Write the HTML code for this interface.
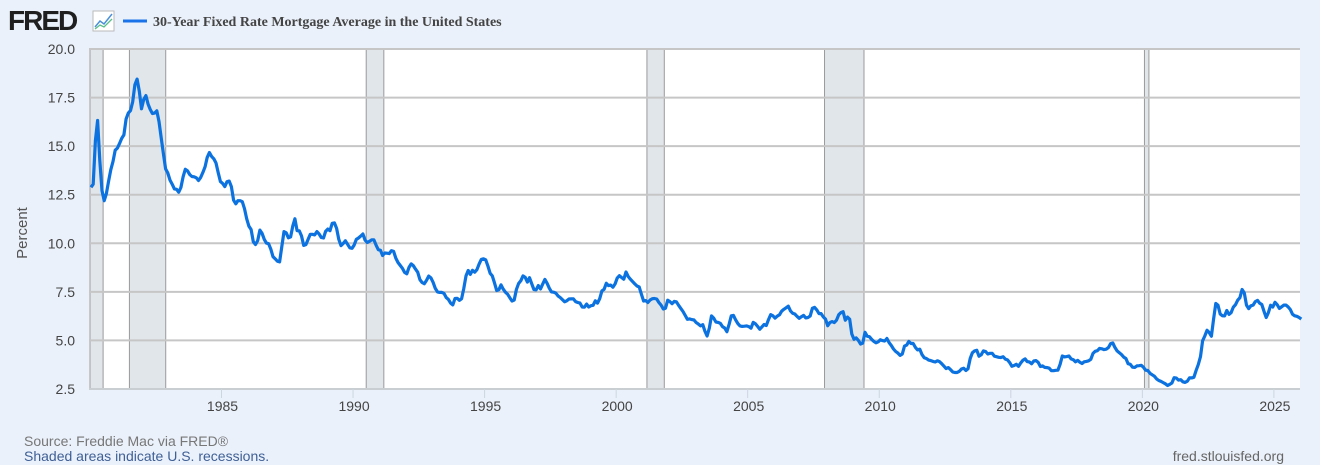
<!DOCTYPE html>
<html><head><meta charset="utf-8">
<style>
html,body{margin:0;padding:0;background:#eaf1fa;width:1320px;height:465px;overflow:hidden;font-family:"Liberation Sans",Arial,sans-serif;}
svg{display:block}
</style></head>
<body>
<svg id="chart" width="1320" height="465" xmlns="http://www.w3.org/2000/svg">
  <rect x="0" y="0" width="1320" height="465" fill="#eaf1fa"/>
  <g>
    <text x="8" y="30" font-family="Liberation Sans, sans-serif" font-weight="bold" font-size="28" fill="#1f1f1f" letter-spacing="-2">FRED</text>
    <rect x="93" y="11" width="21" height="20" fill="#fff" stroke="#bbb" stroke-width="1"/>
    <polyline points="95,27 100,21 104,24 112,14" fill="none" stroke="#4a90d9" stroke-width="1.5"/>
    <polyline points="95,29 100,25 104,27 112,19" fill="none" stroke="#5bbf8a" stroke-width="1.3"/>
  </g>
  <g>
    <line x1="123" y1="21" x2="147" y2="21" stroke="#1a73e8" stroke-width="3"/>
    <text x="153" y="26" font-family="Liberation Serif, serif" font-weight="bold" font-size="14" fill="#444">30-Year Fixed Rate Mortgage Average in the United States</text>
  </g>
  <rect x="89" y="49" width="1211" height="340" fill="#ffffff"/>
  <g id="rec"></g>
  <g id="grid"></g>
  <g id="yt"></g>
  <g id="xt"></g>
  <path id="line" fill="none" stroke="#0b72e0" stroke-width="3.2" stroke-linejoin="round"/>
  <text x="27" y="233" transform="rotate(-90 27 233)" text-anchor="middle" font-size="15" fill="#555">Percent</text>
  <text x="24" y="446" font-size="14" fill="#777">Source: Freddie Mac via FRED®</text>
  <text x="24" y="461" font-size="14" fill="#3f5f95">Shaded areas indicate U.S. recessions.</text>
  <text x="1284" y="461" text-anchor="end" font-size="14" fill="#666">fred.stlouisfed.org</text>
</svg>
<script>
const startYear = 1980;
const monthlyRates = [
12.88,13.04,15.28,16.32,14.26,12.71,12.19,12.56,13.20,13.79,14.21,14.79,
14.90,15.13,15.40,15.58,16.40,16.70,16.83,17.29,18.16,18.45,17.83,16.92,
17.40,17.60,17.16,16.89,16.68,16.70,16.82,16.27,15.43,14.61,13.83,13.62,
13.25,13.04,12.80,12.78,12.63,12.87,13.42,13.81,13.73,13.54,13.44,13.42,
13.37,13.23,13.39,13.65,13.94,14.42,14.67,14.47,14.35,14.13,13.64,13.18,
13.08,12.92,13.17,13.20,12.91,12.22,12.03,12.19,12.19,12.14,11.78,11.26,
10.88,10.71,10.08,9.94,10.14,10.68,10.51,10.20,10.01,9.98,9.70,9.31,
9.20,9.08,9.04,9.83,10.60,10.54,10.28,10.33,10.89,11.26,10.65,10.64,
10.38,9.89,9.93,10.20,10.46,10.46,10.43,10.60,10.48,10.30,10.27,10.61,
10.73,10.65,11.03,11.05,10.77,10.20,9.88,9.99,10.13,9.95,9.77,9.74,
9.90,10.20,10.27,10.37,10.48,10.16,10.04,10.10,10.18,10.18,9.90,9.67,
9.64,9.37,9.50,9.49,9.47,9.62,9.58,9.24,9.01,8.86,8.71,8.50,
8.43,8.76,8.94,8.85,8.67,8.51,8.13,7.98,7.92,8.09,8.31,8.22,
7.99,7.68,7.50,7.47,7.47,7.42,7.21,7.11,6.92,6.83,7.16,7.17,
7.06,7.15,7.68,8.32,8.60,8.40,8.61,8.51,8.64,8.93,9.17,9.20,
9.15,8.83,8.46,8.32,7.96,7.57,7.61,7.86,7.64,7.48,7.38,7.20,
7.03,7.08,7.62,7.93,8.07,8.32,8.25,8.00,8.23,7.92,7.62,7.60,
7.82,7.65,7.90,8.14,7.94,7.69,7.50,7.48,7.43,7.29,7.21,7.10,
6.99,7.04,7.13,7.14,7.14,7.00,6.95,6.92,6.72,6.71,6.87,6.72,
6.79,6.81,7.04,6.92,7.15,7.55,7.63,7.94,7.82,7.85,7.74,7.91,
8.21,8.33,8.24,8.15,8.52,8.29,8.15,8.03,7.91,7.80,7.75,7.38,
7.03,7.05,6.95,7.08,7.15,7.16,7.13,6.95,6.82,6.62,6.66,7.07,
7.00,6.89,7.01,6.99,6.81,6.65,6.49,6.29,6.09,6.11,6.07,6.05,
5.92,5.84,5.75,5.81,5.48,5.23,5.63,6.26,6.15,5.95,5.93,5.88,
5.71,5.64,5.45,5.83,6.27,6.29,6.06,5.87,5.75,5.72,5.73,5.75,
5.71,5.63,5.93,5.86,5.72,5.58,5.70,5.82,5.77,6.07,6.33,6.27,
6.15,6.25,6.32,6.51,6.60,6.68,6.76,6.52,6.40,6.36,6.24,6.14,
6.22,6.29,6.16,6.18,6.26,6.66,6.70,6.57,6.38,6.38,6.21,6.10,
5.76,5.92,5.97,5.92,6.04,6.32,6.43,6.48,6.04,6.20,6.09,5.33,
5.06,5.13,5.00,4.81,4.86,5.42,5.22,5.19,5.06,4.95,4.88,4.93,
5.03,4.99,4.97,5.10,4.89,4.74,4.56,4.43,4.35,4.23,4.30,4.71,
4.76,4.95,4.84,4.84,4.64,4.51,4.55,4.27,4.11,4.07,3.99,3.96,
3.92,3.89,3.95,3.91,3.80,3.68,3.55,3.60,3.50,3.38,3.35,3.35,
3.41,3.53,3.57,3.45,3.54,4.07,4.37,4.46,4.49,4.19,4.26,4.46,
4.43,4.30,4.34,4.34,4.19,4.16,4.13,4.12,4.16,4.04,4.00,3.86,
3.67,3.71,3.77,3.67,3.84,3.98,4.05,3.91,3.89,3.80,3.94,3.96,
3.87,3.66,3.69,3.61,3.60,3.57,3.44,3.44,3.46,3.47,3.77,4.20,
4.15,4.17,4.20,4.05,4.01,3.90,3.97,3.88,3.81,3.90,3.92,3.95,
4.03,4.33,4.44,4.47,4.59,4.57,4.53,4.55,4.63,4.83,4.87,4.64,
4.46,4.37,4.27,4.14,4.07,3.80,3.77,3.62,3.61,3.69,3.70,3.72,
3.62,3.47,3.45,3.31,3.23,3.16,3.02,2.94,2.89,2.83,2.77,2.68,
2.74,2.81,3.08,3.06,2.96,2.98,2.87,2.84,2.90,3.07,3.07,3.10,
3.45,3.76,4.17,4.98,5.23,5.52,5.41,5.22,6.11,6.90,6.81,6.36,
6.27,6.26,6.54,6.34,6.43,6.71,6.84,7.07,7.20,7.62,7.44,6.82,
6.64,6.78,6.82,7.00,7.06,6.92,6.85,6.50,6.18,6.43,6.81,6.72,
6.96,6.84,6.65,6.73,6.82,6.82,6.72,6.59,6.35,6.27,6.24,6.18,
6.10];
const recessionStarts = [1980.0, 1981.5, 1990.5, 2001.17, 2007.92, 2020.08];
const recessionEnds   = [1980.5, 1982.88, 1991.17, 2001.83, 2009.42, 2020.25];
const yTicks = [2.5, 5.0, 7.5, 10.0, 12.5, 15.0, 17.5, 20.0];
const xTicks = [1985, 1990, 1995, 2000, 2005, 2010, 2015, 2020, 2025];

const NS = "http://www.w3.org/2000/svg";
const X0 = 89, X1 = 1300, Y0 = 49, Y1 = 389;
function xs(yr){ return 221.5 + (yr - 1985) * 26.31; }
function ys(v){ return Y1 - (v - 2.5) / 17.5 * (Y1 - Y0); }
function mk(tag, attrs, parent){ const e = document.createElementNS(NS, tag); for (const k in attrs) e.setAttribute(k, attrs[k]); parent.appendChild(e); return e; }

const rec = document.getElementById('rec');
recessionStarts.forEach((s, i) => {
  const x1 = Math.max(X0, xs(s)), x2 = xs(recessionEnds[i]);
  const r = mk('rect', {x: x1, y: Y0, width: x2 - x1, height: Y1 - Y0, fill: '#e1e6eb', stroke: '#9a9a9a', 'stroke-width': 1}, rec);
  
  
});
const grid = document.getElementById('grid'), yt = document.getElementById('yt'), xt = document.getElementById('xt');
yTicks.forEach(v => {
  const y = ys(v);
  const l = mk('line', {x1: X0, x2: X1, y1: y, y2: y, stroke: '#c6c6c6', 'stroke-width': 2}, grid);
  
  
  const t = mk('text', {x: 75, y: y + 5, 'text-anchor': 'end', 'font-size': 14, fill: '#444'}, yt);
  t.textContent = v.toFixed(1);
  
  
});
xTicks.forEach(yr => {
  const x = xs(yr);
  const l = mk('line', {x1: x, x2: x, y1: Y1, y2: Y1 + 9, stroke: '#ccd6e0', 'stroke-width': 1}, xt);
  
  
  const t = mk('text', {x: x + 1, y: 411, 'text-anchor': 'middle', 'font-size': 14, fill: '#444'}, xt);
  t.textContent = yr;
  
  
});
mk('line', {x1: X0, x2: X1, y1: Y1, y2: Y1, stroke: '#ccd6e0', 'stroke-width': 1}, xt);
let d = '';
monthlyRates.forEach((v, i) => {
  const x = xs(startYear + (i + 0.5) / 12);
  d += (i ? 'L' : 'M') + x.toFixed(1) + ',' + ys(v).toFixed(1);
});
document.getElementById('line').setAttribute('d', d);
</script>
</body></html>
